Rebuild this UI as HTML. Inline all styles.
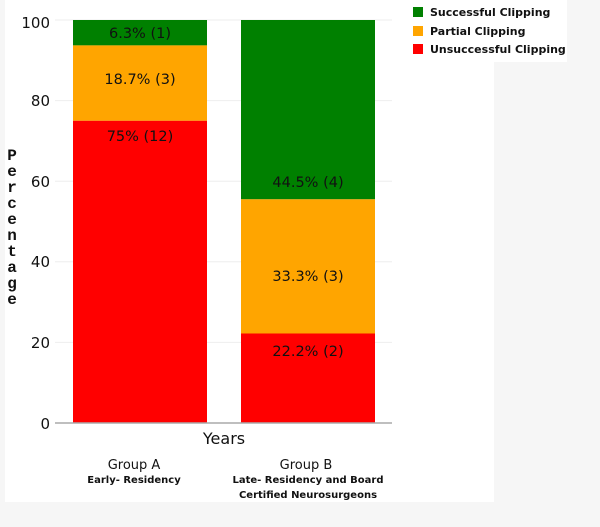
<!DOCTYPE html>
<html><head><style>
body{margin:0;width:600px;height:527px;background:#f6f6f6;overflow:hidden;font-family:"DejaVu Sans","Liberation Sans",sans-serif}
</style></head><body>
<svg width="600" height="527" xmlns="http://www.w3.org/2000/svg" style="position:absolute;left:0;top:0">
<rect x="5" y="0" width="489" height="502" fill="#fff"/>
<rect x="400" y="0" width="167" height="62" fill="#fff"/>
<g stroke="#eee" stroke-width="1">
<line x1="55" y1="20" x2="392" y2="20"/><line x1="55" y1="100.6" x2="392" y2="100.6"/>
<line x1="55" y1="181.2" x2="392" y2="181.2"/><line x1="55" y1="261.8" x2="392" y2="261.8"/>
<line x1="55" y1="342.4" x2="392" y2="342.4"/>
</g>
<rect x="73" y="20" width="134" height="25.4" fill="#008000"/>
<rect x="73" y="45.4" width="134" height="75.4" fill="#ffa500"/>
<rect x="73" y="120.8" width="134" height="302.2" fill="#ff0000"/>
<rect x="241" y="20" width="134" height="179.3" fill="#008000"/>
<rect x="241" y="199.3" width="134" height="134.2" fill="#ffa500"/>
<rect x="241" y="333.5" width="134" height="89.5" fill="#ff0000"/>
<line x1="55" y1="423" x2="392" y2="423" stroke="#aaa" stroke-width="1.5"/>
<g font-size="15" fill="#111" text-anchor="end">
<text x="50" y="28">100</text><text x="50" y="106">80</text><text x="50" y="187">60</text>
<text x="50" y="267">40</text><text x="50" y="348">20</text><text x="50" y="429">0</text>
</g>
<g font-size="14.5" fill="#111" text-anchor="middle">
<text x="140" y="38">6.3% (1)</text><text x="140" y="84">18.7% (3)</text><text x="140" y="141">75% (12)</text>
<text x="308" y="187">44.5% (4)</text><text x="308" y="281">33.3% (3)</text><text x="308" y="356">22.2% (2)</text>
</g>
<g font-size="16" fill="#111" text-anchor="middle" font-weight="bold" font-family="Liberation Mono,monospace">
<text x="12" y="160">P</text><text x="12" y="176">e</text><text x="12" y="192">r</text><text x="12" y="208">c</text>
<text x="12" y="224">e</text><text x="12" y="240">n</text><text x="12" y="256">t</text><text x="12" y="272">a</text>
<text x="12" y="288">g</text><text x="12" y="304">e</text>
</g>
<text x="224" y="444" font-size="16" text-anchor="middle" fill="#111">Years</text>
<text x="134" y="469" font-size="13" text-anchor="middle" fill="#111">Group A</text>
<text x="134" y="483" font-size="10" font-weight="bold" text-anchor="middle" fill="#111">Early- Residency</text>
<text x="306" y="469" font-size="13" text-anchor="middle" fill="#111">Group B</text>
<text x="308" y="483" font-size="10" font-weight="bold" text-anchor="middle" fill="#111">Late- Residency and Board</text>
<text x="308" y="498" font-size="10" font-weight="bold" text-anchor="middle" fill="#111">Certified Neurosurgeons</text>
<rect x="413" y="7" width="10" height="10" fill="#008000"/>
<rect x="413" y="26" width="10" height="10" fill="#ffa500"/>
<rect x="413" y="44" width="10" height="10" fill="#ff0000"/>
<g font-size="11" font-weight="bold" fill="#111">
<text x="430" y="16">Successful Clipping</text>
<text x="430" y="35">Partial Clipping</text>
<text x="430" y="53">Unsuccessful Clipping</text>
</g>
</svg>
</body></html>
